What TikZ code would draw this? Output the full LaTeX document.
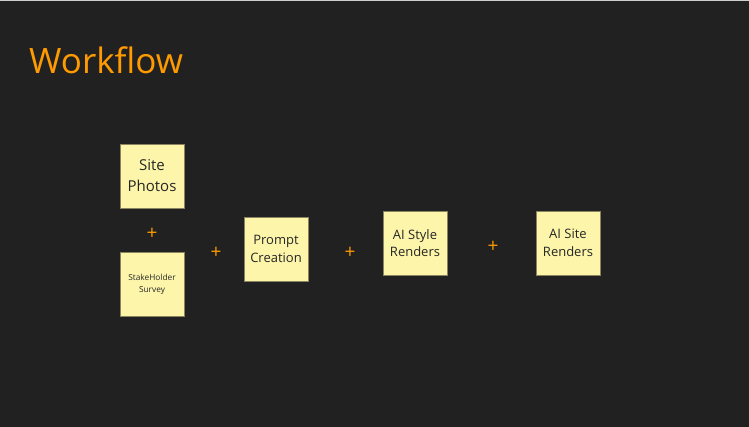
\documentclass[tikz,border=0pt]{standalone}
\usepackage{fontspec}
\setmainfont{Open Sans}
\definecolor{bg}{HTML}{212121}
\definecolor{note}{HTML}{FDF6AA}
\definecolor{noteedge}{HTML}{8A8560}
\definecolor{orng}{HTML}{FF9A00}
\definecolor{topline}{HTML}{CFCFCF}
\begin{document}
\begin{tikzpicture}[x=1pt,y=-1pt,
  sticky/.style={draw=noteedge,line width=0.5pt,fill=note,minimum width=64pt,minimum height=64pt,
    inner sep=1pt,align=center,text=black!85,font=\fontsize{13}{17.5}\selectfont},
  plus/.style={text=orng,font=\fontsize{19}{19}\selectfont,inner sep=0pt}]
\fill[bg] (0,0) rectangle (749,427);
\fill[topline] (0,0) rectangle (749,1.2);
\node[anchor=base west,text=orng,font=\fontsize{35}{35}\selectfont,inner sep=0pt] (title) at (29,74) {Workflow};
\node[sticky,font=\fontsize{15}{21}\selectfont] (site) at (152,176) {Site\\Photos};
\node[sticky,font=\fontsize{8.3}{12}\selectfont] (survey) at (152,284) {StakeHolder\\Survey};
\node[sticky] (prompt) at (276,249) {Prompt\\Creation};
\node[sticky] (style) at (415,243) {AI Style\\Renders};
\node[sticky] (render) at (568,243) {AI Site\\Renders};
\node[plus] (p1) at (152,234) {+};
\node[plus] (p2) at (216,253) {+};
\node[plus] (p3) at (350,253) {+};
\node[plus] (p4) at (493,247) {+};
\end{tikzpicture}
\end{document}
